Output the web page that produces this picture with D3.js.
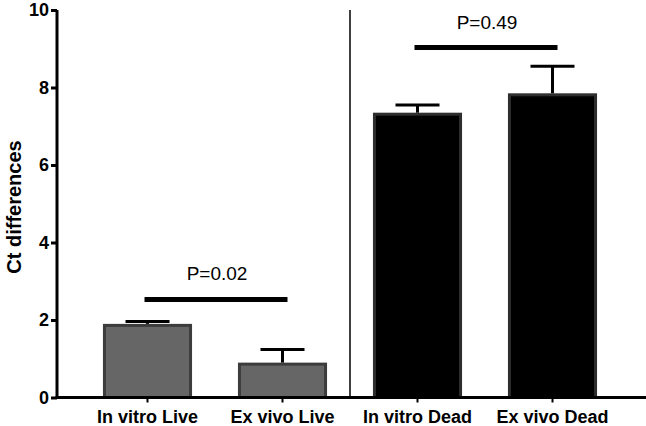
<!DOCTYPE html>
<html><head><meta charset="utf-8">
<script src="https://cdn.jsdelivr.net/npm/d3@7"></script>
<style>body{margin:0;background:#fff}svg{display:block}</style>
</head><body>
<script>
const categories = ["In vitro Live","Ex vivo Live","In vitro Dead","Ex vivo Dead"];
const values = [1.9, 0.9, 7.35, 7.85];
const errors = [0.06, 0.34, 0.2, 0.7];
const groups = ["Live","Live","Dead","Dead"];
const yTicks = [0,2,4,6,8,10];
const comparisons = [
  {from:"In vitro Live", to:"Ex vivo Live", y:2.53, label:"P=0.02"},
  {from:"In vitro Dead", to:"Ex vivo Dead", y:9.03, label:"P=0.49"}
];

const W=646,H=426;
const svg=d3.select("body").append("svg").attr("width",W).attr("height",H);
const font="Liberation Sans, Arial, Helvetica, sans-serif";
const x=d3.scaleBand().domain(categories).range([80,620]).paddingInner(0.34).paddingOuter(0.17);
const y=d3.scaleLinear().domain([0,10]).range([397.5,10]);
const fill={Live:"#666666",Dead:"#000000"}, stroke={Live:"#3c3c3c",Dead:"#2e2e2e"};

// bars
svg.selectAll("rect.bar").data(categories).join("rect")
  .attr("x",d=>x(d)+1.5).attr("width",x.bandwidth()-3)
  .attr("y",(d,i)=>y(values[i])+1.5).attr("height",(d,i)=>y(0)-y(values[i])-1.5)
  .attr("fill",(d,i)=>fill[groups[i]]).attr("stroke",(d,i)=>stroke[groups[i]]).attr("stroke-width",3);

// error bars
categories.forEach((c,i)=>{
  const cx=x(c)+x.bandwidth()/2;
  const top=y(values[i]+errors[i]);
  svg.append("line").attr("x1",cx).attr("x2",cx).attr("y1",y(values[i])).attr("y2",top).attr("stroke","#000").attr("stroke-width",3);
  svg.append("line").attr("x1",cx-22).attr("x2",cx+22).attr("y1",top).attr("y2",top).attr("stroke","#000").attr("stroke-width",3);
});

// separator
svg.append("line").attr("x1",350).attr("x2",350).attr("y1",y(10)).attr("y2",y(0)).attr("stroke","#000").attr("stroke-width",1.5);

// comparisons
comparisons.forEach(cm=>{
  const x1=x(cm.from)+x.bandwidth()/2-3, x2=x(cm.to)+x.bandwidth()/2+5;
  svg.append("line").attr("x1",x1).attr("x2",x2).attr("y1",y(cm.y)).attr("y2",y(cm.y)).attr("stroke","#000").attr("stroke-width",5);
  svg.append("text").attr("x",(x1+x2)/2+1).attr("y",y(cm.y)-19).attr("text-anchor","middle")
    .attr("font-family",font).attr("font-size",19).text(cm.label);
});

// y axis
const ya=svg.append("g").attr("transform","translate(57,0)")
  .call(d3.axisLeft(y).tickValues(yTicks).tickFormat(d3.format("d")).tickSize(6).tickPadding(2));
ya.select(".domain").attr("stroke-width",3).attr("d",`M0,${y(10)}V${y(0)+1.5}`);
ya.selectAll(".tick line").attr("stroke-width",3);
ya.selectAll("text").attr("font-family",font).attr("font-size",18).attr("font-weight","bold").attr("fill","#000");

// x axis
const xa=svg.append("g").attr("transform",`translate(0,${y(0)})`)
  .call(d3.axisBottom(x).tickSize(5).tickPadding(8));
xa.select(".domain").attr("stroke-width",3).attr("d",`M55.5,0H646`);
xa.selectAll(".tick line").attr("stroke-width",2);
xa.selectAll("text").attr("font-family",font).attr("font-size",18).attr("font-weight","bold").attr("fill","#000");

// y title
svg.append("text").attr("transform","translate(21,207) rotate(-90)").attr("text-anchor","middle")
  .attr("font-family",font).attr("font-size",20).attr("font-weight","bold").text("Ct differences");
</script>
</body></html>
